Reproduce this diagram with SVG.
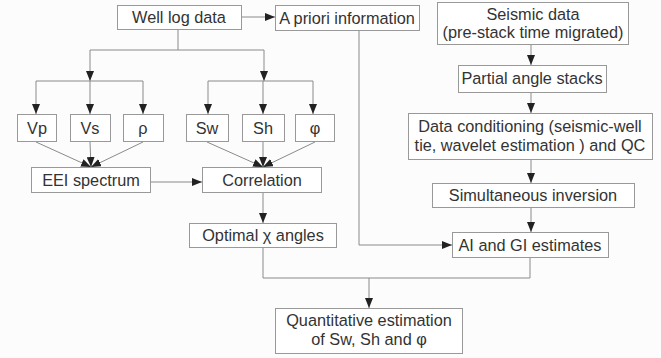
<svg xmlns="http://www.w3.org/2000/svg" width="661" height="358" viewBox="0 0 661 358">
<defs>
<marker id="ah" viewBox="0 0 10 8" refX="10" refY="4" markerWidth="10" markerHeight="8" markerUnits="userSpaceOnUse" orient="auto">
<path d="M0,0 L10,4 L0,8 Z" fill="#222"/>
</marker>
</defs>
<style>
.b{fill:#fff;stroke:#999;stroke-width:1}
.t{font-family:"Liberation Sans",Arial,sans-serif;font-size:16.3px;fill:#333;text-anchor:middle}
.c{fill:none;stroke:#8a8a8a;stroke-width:1}
.a{marker-end:url(#ah)}
</style>
<rect width="661" height="358" fill="#fcfcfc"/>
<g id="connectors">
<path class="c a" d="M241,17 H275"/>
<path class="c" d="M178,29 V50 M90,50 H264"/>
<path class="c a" d="M90,50 V81"/>
<path class="c a" d="M264,50 V81"/>
<path class="c" d="M36,81 H143 M208,81 H313"/>
<path class="c a" d="M36,81 V114"/>
<path class="c a" d="M90,81 V114"/>
<path class="c a" d="M143,81 V114"/>
<path class="c a" d="M208,81 V114"/>
<path class="c a" d="M263,81 V114"/>
<path class="c a" d="M313,81 V114"/>
<path class="c a" d="M36,142 L91,167"/>
<path class="c a" d="M90,142 L91,167"/>
<path class="c a" d="M143,142 L91,167"/>
<path class="c a" d="M207,142 L263,167"/>
<path class="c a" d="M263,142 L263,167"/>
<path class="c a" d="M315,142 L263,167"/>
<path class="c a" d="M150,182 H202"/>
<path class="c a" d="M263,192 V223"/>
<path class="c" d="M263,247 V278 H530 V257"/>
<path class="c a" d="M369,278 V308"/>
<path class="c a" d="M359,30 V245 H452"/>
<path class="c a" d="M531,44 V65"/>
<path class="c a" d="M531,92 V113"/>
<path class="c a" d="M531,159 V183"/>
<path class="c a" d="M531,207 V232"/>
</g>
<g id="well"><rect class="b" x="117.5" y="5.5" width="124" height="24"/><text class="t" x="179" y="23">Well log data</text></g>
<g id="apriori"><rect class="b" x="275.5" y="5.5" width="144" height="25"/><text class="t" x="347" y="23.5">A priori information</text></g>
<g id="vp"><rect class="b" x="17.5" y="114.5" width="39" height="27"/><text class="t" x="37" y="133.5">Vp</text></g>
<g id="vs"><rect class="b" x="70.5" y="114.5" width="40" height="27"/><text class="t" x="90" y="133.5">Vs</text></g>
<g id="rho"><rect class="b" x="123.5" y="114.5" width="40" height="27"/><text class="t" x="143" y="133.5">ρ</text></g>
<g id="sw"><rect class="b" x="186.5" y="114.5" width="42" height="27"/><text class="t" x="207" y="133.5">Sw</text></g>
<g id="sh"><rect class="b" x="242.5" y="114.5" width="42" height="27"/><text class="t" x="263" y="133.5">Sh</text></g>
<g id="phi"><rect class="b" x="295.5" y="114.5" width="39" height="27"/><text class="t" x="315" y="133.5">φ</text></g>
<g id="eei"><rect class="b" x="31.5" y="167.5" width="119" height="25"/><text class="t" x="91" y="185.5">EEI spectrum</text></g>
<g id="corr"><rect class="b" x="202.5" y="167.5" width="119" height="25"/><text class="t" x="262" y="185.5">Correlation</text></g>
<g id="optimal"><rect class="b" x="189.5" y="223.5" width="147" height="24"/><text class="t" x="263" y="241">Optimal χ angles</text></g>
<g id="seismic"><rect class="b" x="437.5" y="2.5" width="191" height="42"/><text class="t" x="533" y="20">Seismic data</text><text class="t" x="533" y="38">(pre-stack time migrated)</text></g>
<g id="partial"><rect class="b" x="458.5" y="65.5" width="148" height="27"/><text class="t" x="532" y="84">Partial angle stacks</text></g>
<g id="cond"><rect class="b" x="408.5" y="113.5" width="244" height="46"/><text class="t" x="530" y="131.5">Data conditioning (seismic-well</text><text class="t" x="530" y="150.5">tie, wavelet estimation ) and QC</text></g>
<g id="simul"><rect class="b" x="432.5" y="183.5" width="202" height="24"/><text class="t" x="533" y="201">Simultaneous inversion</text></g>
<g id="aigi"><rect class="b" x="452.5" y="232.5" width="156" height="25"/><text class="t" x="530" y="250.5">AI and GI estimates</text></g>
<g id="quant"><rect class="b" x="275.5" y="308.5" width="187" height="45"/><text class="t" x="369" y="326">Quantitative estimation</text><text class="t" x="369" y="345">of Sw, Sh and φ</text></g>
</svg>
